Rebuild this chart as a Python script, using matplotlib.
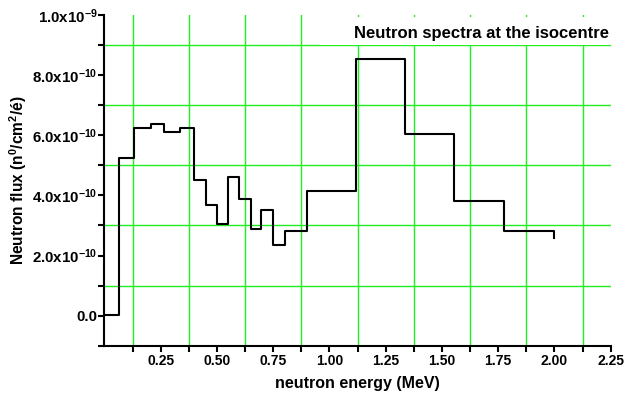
import matplotlib
matplotlib.use('Agg')
import matplotlib.pyplot as plt
from matplotlib.patches import Rectangle
from matplotlib.ticker import MultipleLocator, FixedLocator, FixedFormatter

plt.rcParams['font.family'] = ['Liberation Sans', 'DejaVu Sans']
plt.rcParams['font.weight'] = 'bold'
plt.rcParams['mathtext.default'] = 'regular'

# neutron spectrum (step drawn 'post' style)
energy = [0.0, 0.065, 0.133, 0.206, 0.266, 0.336, 0.398, 0.450, 0.502, 0.548,
          0.600, 0.650, 0.696, 0.748, 0.803, 0.899, 1.118, 1.337, 1.555, 1.775, 2.0]
flux = [0.03, 5.23, 6.24, 6.37, 6.10, 6.24, 4.51, 3.67, 3.06, 4.60,
        3.87, 2.87, 3.52, 2.36, 2.81, 4.13, 8.53, 6.03, 3.80, 2.80, 2.59]
flux = [f * 1e-10 for f in flux]

ytick_vals = [0.0, 2e-10, 4e-10, 6e-10, 8e-10, 1e-9]
ytick_labels = ['0.0', '2.0x10$^{-10}$', '4.0x10$^{-10}$', '6.0x10$^{-10}$',
                '8.0x10$^{-10}$', '1.0x10$^{-9}$']
xtick_vals = [0.25, 0.50, 0.75, 1.00, 1.25, 1.50, 1.75, 2.00, 2.25]
xtick_labels = ['0.25', '0.50', '0.75', '1.00', '1.25', '1.50', '1.75', '2.00', '2.25']

fig = plt.figure(figsize=(6.27, 4.05), dpi=100)
ax = fig.add_axes([0.1665, 0.1464, 0.8075, 0.8166])

ax.step(energy, flux, where='post', color='black', linewidth=1.5, zorder=3)

ax.set_xlim(0, 2.25)
ax.set_ylim(-1e-10, 1e-9)

ax.xaxis.set_major_locator(FixedLocator(xtick_vals))
ax.xaxis.set_major_formatter(FixedFormatter(xtick_labels))
ax.xaxis.set_minor_locator(MultipleLocator(0.25, offset=0.125))
ax.yaxis.set_major_locator(FixedLocator(ytick_vals))
ax.yaxis.set_major_formatter(FixedFormatter(ytick_labels))
ax.yaxis.set_minor_locator(MultipleLocator(2e-10, offset=1e-10))

ax.set_axisbelow(True)
ax.grid(True, which='minor', color='#1fef1f', linewidth=1.0)
ax.grid(False, which='major')

for s in ['top', 'right']:
    ax.spines[s].set_visible(False)
for s in ['left', 'bottom']:
    ax.spines[s].set_linewidth(1.5)

ax.tick_params(which='both', direction='out', length=4, width=1.5, pad=2)
ax.tick_params(axis='x', labelsize=10)
ax.tick_params(axis='y', labelsize=10.8, pad=1)

# white box behind the title
ax.add_patch(Rectangle((0.958, 0.9e-9), 1.3, 0.093e-9, facecolor='white',
                       edgecolor='none', zorder=2))
ax.text(1.675, 0.94e-9, 'Neutron spectra at the isocentre', ha='center', va='center',
        fontsize=12, fontweight='bold', zorder=4)

ax.set_xlabel('neutron energy (MeV)', fontsize=11.5, fontweight='bold', labelpad=6)
ax.set_ylabel('Neutron flux (n$^0$/cm$^2$/é)', fontsize=11.2, fontweight='bold', labelpad=2)

plt.savefig('out.png', dpi=100)
